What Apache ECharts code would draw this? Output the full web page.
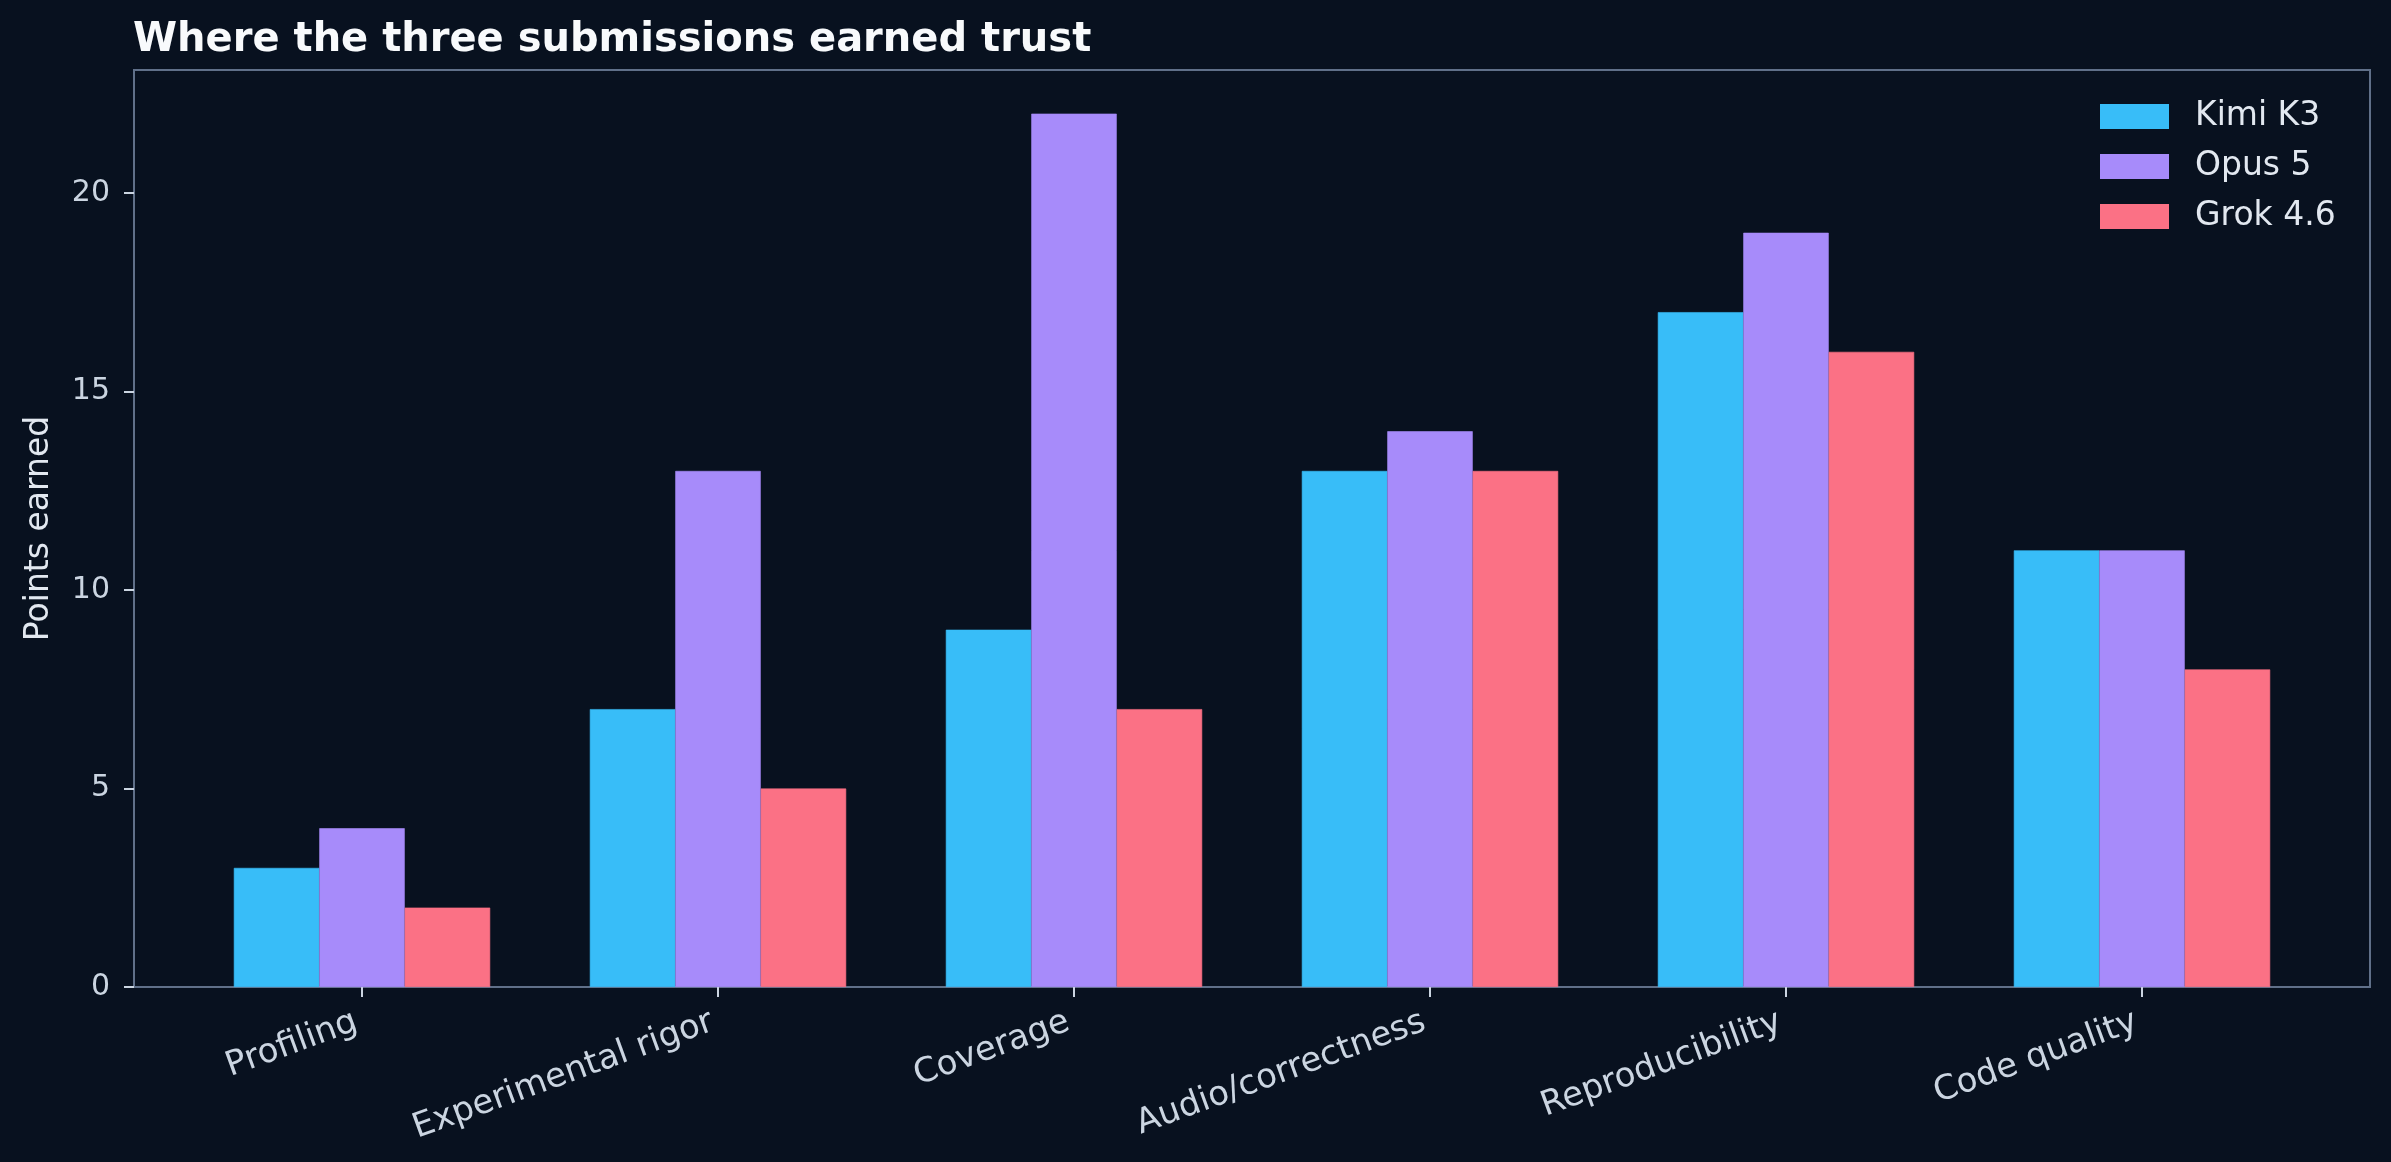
<!DOCTYPE html>
<html>
<head>
<meta charset="utf-8">
<title>Where the three submissions earned trust</title>
<script src="https://cdn.jsdelivr.net/npm/echarts@6.0.0/dist/echarts.min.js"></script>
<style>
    html, body { margin: 0; padding: 0; background: #08111f; }
    #main { width: 2391px; height: 1162px; }
</style>
</head>
<body>
<div id="main"></div>
<script>
// 数据
var categories = ['Profiling', 'Experimental rigor', 'Coverage', 'Audio/correctness', 'Reproducibility', 'Code quality'];
var kimiK3 = [3, 7, 9, 13, 17, 11];
var opus5 = [4, 13, 22, 14, 19, 11];
var grok46 = [2, 5, 7, 13, 16, 8];
var yTicks = [0, 5, 10, 15, 20];
var yMax = 23.1;

var font = 'DejaVu Sans';
var colors = ['#38bdf8', '#a78bfa', '#fb7185'];
var chart = echarts.init(document.getElementById('main'));

function barSeries(name, data, color) {
    return {
        name: name, type: 'bar', xAxisIndex: 1, yAxisIndex: 1, data: data,
        barWidth: '24%', barGap: '0%',
        itemStyle: { color: color, borderColor: color, borderWidth: 0.6 }
    };
}

var option = {
    backgroundColor: '#08111f',
    animation: false,
    title: {
        text: 'Where the three submissions earned trust',
        left: 128,
        top: 16,
        textStyle: { color: '#f8fafc', fontFamily: font, fontSize: 40, fontWeight: 'bold' }
    },
    legend: {
        orient: 'vertical',
        left: 2095,
        top: 95,
        itemWidth: 67,
        itemHeight: 23,
        itemGap: 17,
        icon: 'rect',
        align: 'left',
        textStyle: { color: '#e2e8f0', fontFamily: font, fontSize: 33, lineHeight: 23, padding: [0, 0, 0, 22] },
        data: ['Kimi K3', 'Opus 5', 'Grok 4.6']
    },
    grid: [
        // 外框 + y 轴
        { left: 134, right: 21, top: 70, bottom: 175, show: true, borderColor: '#607089', borderWidth: 2, backgroundColor: 'transparent' },
        // 柱子区域
        { left: 184, right: 71, top: 70, bottom: 175 }
    ],
    xAxis: [
        { gridIndex: 0, type: 'value', min: 0, max: 1, show: false },
        {
            gridIndex: 1,
            type: 'category',
            data: categories,
            axisLine: { show: false },
            axisTick: { show: true, alignWithLabel: true, length: 10, lineStyle: { color: '#cbd5e1', width: 2 } },
            axisLabel: { rotate: 20, margin: 32, padding: [0, 6, 0, 0], color: '#cbd5e1', fontFamily: font, fontSize: 34 }
        }
    ],
    yAxis: [
        {
            gridIndex: 0,
            type: 'value',
            min: 0,
            max: yMax,
            name: 'Points earned',
            nameLocation: 'middle',
            nameGap: 78,
            nameTextStyle: { color: '#e2e8f0', fontFamily: font, fontSize: 33 },
            splitLine: { show: false },
            axisLine: { show: false },
            axisTick: { show: true, length: 10, customValues: yTicks, lineStyle: { color: '#cbd5e1', width: 2 } },
            axisLabel: { customValues: yTicks, margin: 24, color: '#cbd5e1', fontFamily: font, fontSize: 30 }
        },
        { gridIndex: 1, type: 'value', min: 0, max: yMax, show: false, splitLine: { show: false } }
    ],
    series: [
        barSeries('Kimi K3', kimiK3, colors[0]),
        barSeries('Opus 5', opus5, colors[1]),
        barSeries('Grok 4.6', grok46, colors[2])
    ]
};

chart.setOption(option);
</script>
</body>
</html>
